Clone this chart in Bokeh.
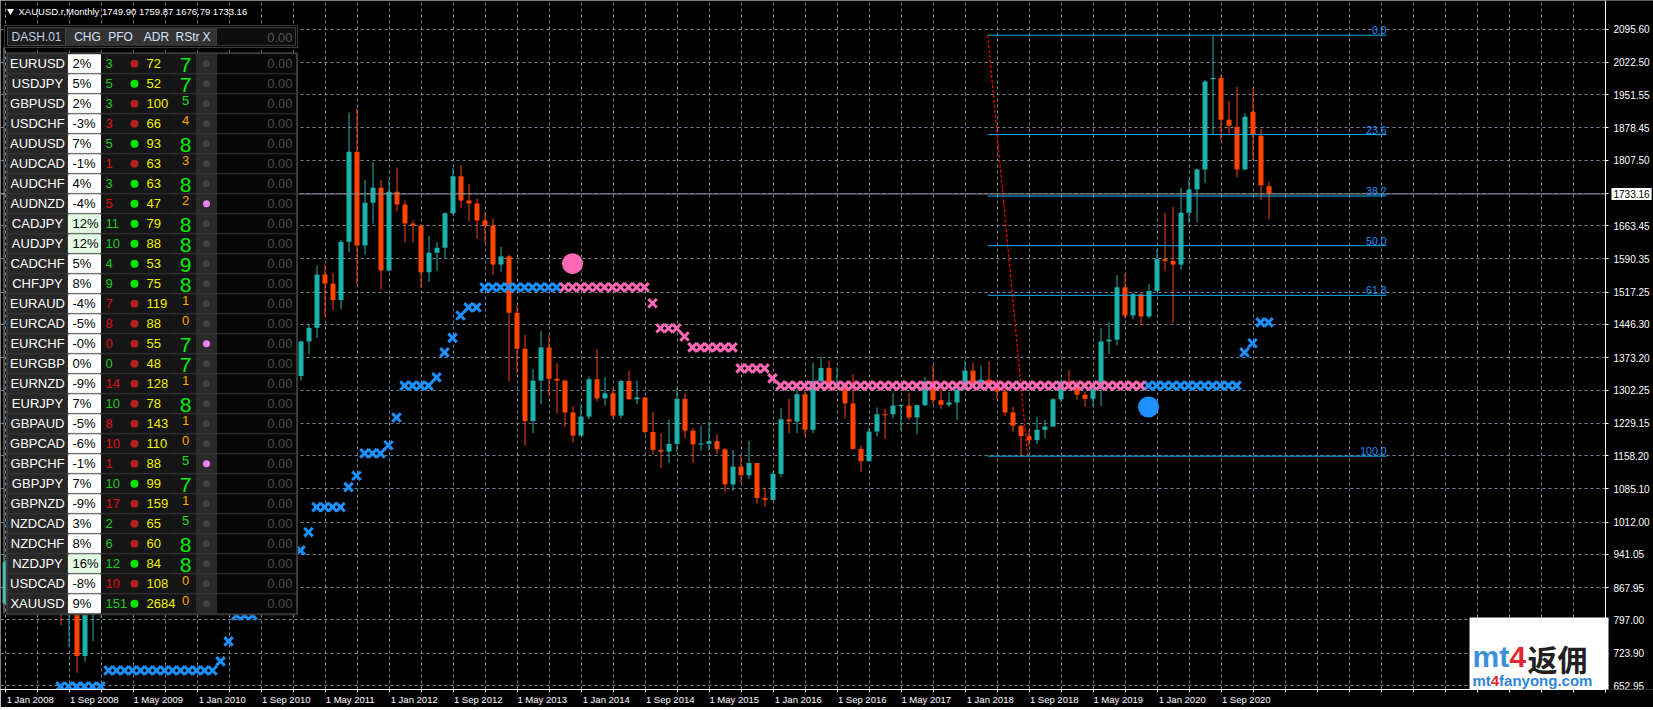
import numpy as np
from bokeh.plotting import figure
from bokeh.models import Range1d, FixedTicker, NumeralTickFormatter, Label
from bokeh.core.properties import value
from bokeh.embed import file_html
from bokeh.resources import INLINE

# ---------------- data ----------------
chart_title = "XAUUSD.r,Monthly"
last_bar_text = "1749.90 1759.87 1676.79 1733.16"
first_year = 2008
month_names = ["Jan", "Feb", "Mar", "Apr", "May", "Jun", "Jul", "Aug", "Sep", "Oct", "Nov", "Dec"]

opens = [834, 924, 972, 917, 864, 886, 926, 914, 834, 880, 718, 815,
         884, 928, 942, 917, 888, 979, 927, 954, 955, 1008, 1040, 1181,
         1097, 1083, 1118, 1113, 1180, 1214, 1244, 1181, 1248, 1307, 1358, 1386,
         1421, 1333, 1409, 1439, 1556, 1536, 1500, 1628, 1826, 1620, 1714, 1747,
         1565, 1738, 1710, 1668, 1664, 1561, 1604, 1615, 1691, 1772, 1719, 1712,
         1675, 1664, 1578, 1596, 1472, 1393, 1234, 1323, 1396, 1327, 1323, 1253,
         1202, 1244, 1326, 1284, 1295, 1246, 1322, 1282, 1286, 1210, 1171, 1167,
         1184, 1283, 1213, 1183, 1184, 1190, 1172, 1095, 1134, 1115, 1142, 1065,
         1061, 1118, 1238, 1233, 1293, 1215, 1322, 1351, 1309, 1316, 1273, 1173,
         1146, 1211, 1249, 1249, 1268, 1268, 1242, 1269, 1321, 1280, 1270, 1275,
         1303, 1345, 1318, 1325, 1315, 1299, 1253, 1224, 1201, 1192, 1215, 1222,
         1282, 1321, 1313, 1292, 1283, 1305, 1409, 1413, 1528, 1466, 1513, 1464,
         1520, 1590, 1586, 1578, 1692, 1743, 1787, 1985, 1988, 1896, 1881, 1787,
         1914, 1861, 1749.90]
highs = [934, 976, 1033, 928, 930, 943, 988, 918, 921, 935, 826, 889,
         932, 1007, 962, 917, 980, 990, 960, 966, 1025, 1070, 1195, 1227,
         1162, 1127, 1134, 1184, 1249, 1265, 1245, 1248, 1308, 1387, 1424, 1432,
         1424, 1411, 1447, 1576, 1577, 1560, 1632, 1912, 1921, 1764, 1803, 1764,
         1764, 1791, 1719, 1676, 1666, 1641, 1627, 1693, 1790, 1796, 1755, 1723,
         1693, 1679, 1617, 1600, 1488, 1424, 1348, 1433, 1424, 1361, 1325, 1267,
         1270, 1332, 1392, 1331, 1306, 1325, 1345, 1323, 1287, 1255, 1207, 1238,
         1307, 1296, 1219, 1224, 1232, 1205, 1175, 1170, 1157, 1191, 1142, 1088,
         1123, 1263, 1283, 1304, 1304, 1362, 1375, 1367, 1352, 1318, 1337, 1180,
         1220, 1264, 1261, 1296, 1270, 1296, 1270, 1331, 1357, 1306, 1299, 1307,
         1366, 1362, 1356, 1365, 1326, 1309, 1266, 1224, 1214, 1243, 1237, 1285,
         1326, 1346, 1324, 1298, 1306, 1439, 1452, 1555, 1557, 1517, 1516, 1535,
         1611, 1692, 1705, 1747, 1765, 1789, 1984, 2082, 1996, 1938, 1969, 1911,
         1966, 1876, 1759.87]
lows = [832, 887, 920, 852, 850, 860, 903, 786, 740, 681, 705, 750,
        801, 890, 865, 866, 880, 913, 905, 930, 950, 1003, 1033, 1075,
        1073, 1045, 1088, 1113, 1156, 1196, 1155, 1177, 1242, 1305, 1331, 1360,
        1308, 1323, 1381, 1417, 1462, 1478, 1480, 1605, 1534, 1600, 1668, 1523,
        1563, 1695, 1627, 1627, 1527, 1540, 1564, 1590, 1686, 1702, 1673, 1635,
        1626, 1555, 1562, 1321, 1339, 1180, 1208, 1271, 1290, 1251, 1221, 1187,
        1202, 1238, 1277, 1268, 1240, 1240, 1281, 1271, 1206, 1161, 1131, 1142,
        1167, 1197, 1142, 1170, 1170, 1162, 1077, 1080, 1098, 1107, 1052, 1046,
        1061, 1111, 1208, 1208, 1200, 1208, 1310, 1302, 1305, 1241, 1171, 1123,
        1146, 1200, 1195, 1241, 1214, 1237, 1205, 1267, 1271, 1261, 1265, 1236,
        1302, 1307, 1303, 1315, 1282, 1245, 1211, 1157, 1180, 1183, 1196, 1221,
        1276, 1303, 1281, 1266, 1266, 1267, 1381, 1400, 1459, 1458, 1445, 1459,
        1517, 1563, 1451, 1567, 1670, 1671, 1757, 1864, 1851, 1865, 1769, 1786,
        1807, 1720, 1676.79]
closes = [924, 972, 917, 864, 886, 926, 914, 834, 880, 718, 815, 884,
          928, 942, 917, 888, 979, 927, 954, 955, 1008, 1040, 1181, 1097,
          1083, 1118, 1113, 1180, 1214, 1244, 1181, 1248, 1307, 1358, 1386, 1421,
          1333, 1409, 1439, 1556, 1536, 1500, 1628, 1826, 1620, 1714, 1747, 1565,
          1738, 1710, 1668, 1664, 1561, 1604, 1615, 1691, 1772, 1719, 1712, 1675,
          1664, 1578, 1596, 1472, 1393, 1234, 1323, 1396, 1327, 1323, 1253, 1202,
          1244, 1326, 1284, 1295, 1246, 1322, 1282, 1286, 1210, 1171, 1167, 1184,
          1283, 1213, 1183, 1184, 1190, 1172, 1095, 1134, 1115, 1142, 1065, 1061,
          1118, 1238, 1233, 1293, 1215, 1322, 1351, 1309, 1316, 1273, 1173, 1146,
          1211, 1249, 1247, 1268, 1269, 1242, 1269, 1321, 1280, 1270, 1275, 1303,
          1345, 1318, 1325, 1316, 1299, 1253, 1224, 1201, 1192, 1215, 1222, 1282,
          1321, 1313, 1292, 1283, 1305, 1409, 1413, 1528, 1466, 1513, 1464, 1520,
          1590, 1586, 1578, 1692, 1743, 1787, 1980, 1988, 1896, 1883, 1787, 1903,
          1863, 1752, 1733.16]
last_price = 1733.16

# trailing-stop indicator (bar index, price)
blue_stop_bars = [7, 8, 9, 10, 11, 12, 13, 14, 15, 16, 17, 18, 19, 20, 21, 22, 23, 24, 25, 26,
                  27, 28, 29, 30, 31, 32, 33, 34, 35, 36, 37, 38, 39, 40, 41, 42, 43, 44,
                  45, 46, 47, 48, 49, 50, 51, 52, 53, 54, 55, 56, 57, 58, 59,
                  60, 61, 62, 63, 64, 65, 66, 67, 68, 69,
                  143, 144, 145, 146, 147, 148, 149, 150, 151, 152, 153, 154, 155, 156, 157, 158]
blue_stop_prices = [651, 651, 651, 651, 651, 651, 686, 686, 686, 686, 686, 686, 686, 686, 686, 686, 686, 686, 686, 686,
                    706, 750, 807, 807, 807, 886, 886, 920, 920, 950, 950, 990, 1045, 1045, 1045, 1045, 1089, 1114,
                    1163, 1163, 1163, 1181, 1242, 1312, 1312, 1312, 1312, 1330, 1385, 1417, 1466, 1484, 1484,
                    1528, 1528, 1528, 1528, 1528, 1528, 1528, 1528, 1528, 1528,
                    1312, 1312, 1312, 1312, 1312, 1312, 1312, 1312, 1312, 1312, 1312, 1312, 1385, 1405, 1451, 1451]
pink_stop_bars = [70, 71, 72, 73, 74, 75, 76, 77, 78, 79, 80, 81, 82, 83, 84, 85,
                  86, 87, 88, 89, 90, 91, 92, 93, 94, 95, 96,
                  97, 98, 99, 100, 101, 102, 103, 104, 105, 106, 107, 108, 109, 110, 111, 112, 113, 114, 115,
                  116, 117, 118, 119, 120, 121, 122, 123, 124, 125, 126, 127, 128, 129, 130, 131, 132, 133,
                  134, 135, 136, 137, 138, 139, 140, 141, 142]
pink_stop_prices = [1528, 1528, 1528, 1528, 1528, 1528, 1528, 1528, 1528, 1528, 1528, 1493, 1438, 1438, 1438, 1420,
                    1396, 1396, 1396, 1396, 1396, 1396, 1350, 1350, 1350, 1350, 1328,
                    1312, 1312, 1312, 1312, 1312, 1312, 1312, 1312, 1312, 1312, 1312, 1312, 1312, 1312, 1312, 1312, 1312, 1312, 1312,
                    1312, 1312, 1312, 1312, 1312, 1312, 1312, 1312, 1312, 1312, 1312, 1312, 1312, 1312, 1312, 1312, 1312, 1312,
                    1312, 1312, 1312, 1312, 1312, 1312, 1312, 1312, 1312]
signal_bars = [71, 143]
signal_prices = [1580, 1265]
signal_colors = ["#FF69B4", "#1E90FF"]

# Fibonacci retracement object
fib_bar_1, fib_price_1 = 122.9, 2082.0
fib_bar_2, fib_price_2 = 127.9, 1157.0
fib_bar_end = 172.75
fib_levels = [0.0, 23.6, 38.2, 50.0, 61.8, 100.0]

price_ticks = [2095.60, 2022.50, 1951.55, 1878.45, 1807.50, 1734.40, 1663.45, 1590.35, 1517.25, 1446.30,
               1373.20, 1302.25, 1229.15, 1158.20, 1085.10, 1012.00, 941.05, 867.95, 797.00, 723.90, 652.95]

# dashboard
dash_header = ["CHG", "PFO", "ADR", "RStr", "X"]
dash_symbols = ["EURUSD", "USDJPY", "GBPUSD", "USDCHF", "AUDUSD", "AUDCAD", "AUDCHF", "AUDNZD", "CADJPY",
                "AUDJPY", "CADCHF", "CHFJPY", "EURAUD", "EURCAD", "EURCHF", "EURGBP", "EURNZD", "EURJPY",
                "GBPAUD", "GBPCAD", "GBPCHF", "GBPJPY", "GBPNZD", "NZDCAD", "NZDCHF", "NZDJPY", "USDCAD", "XAUUSD"]
dash_chg = ["2%", "5%", "2%", "-3%", "7%", "-1%", "4%", "-4%", "12%", "12%", "5%", "8%", "-4%", "-5%",
            "-0%", "0%", "-9%", "7%", "-5%", "-6%", "-1%", "7%", "-9%", "3%", "8%", "16%", "-8%", "9%"]
dash_pfo = [3, 5, 3, 3, 5, 1, 3, 5, 11, 10, 4, 9, 7, 8, 0, 0, 14, 10, 8, 10, 1, 10, 17, 2, 6, 12, 10, 151]
dash_pfo_up = [0, 1, 0, 0, 1, 0, 1, 1, 1, 1, 1, 1, 0, 0, 0, 0, 0, 0, 0, 0, 0, 1, 0, 0, 0, 1, 0, 1]
dash_adr = [72, 52, 100, 66, 93, 63, 63, 47, 79, 88, 53, 75, 119, 88, 55, 48, 128, 78, 143, 110, 88, 99,
            159, 65, 60, 84, 108, 2684]
dash_rstr = [7, 7, 5, 4, 8, 3, 8, 2, 8, 8, 9, 8, 1, 0, 7, 7, 1, 8, 1, 0, 5, 7, 1, 5, 8, 8, 0, 0]
dash_flag = [0, 0, 0, 0, 0, 0, 0, 1, 0, 0, 0, 0, 0, 0, 1, 0, 0, 0, 0, 0, 1, 0, 0, 0, 0, 0, 0, 0]
dash_value = "0.00"

# ---------------- layout helpers (reference pixel -> data) ----------------
PX_BAR = 8.0
PX_UNIT = 0.4551
W, H, AXIS_X, FRAME_H = 1653, 707, 1605, 689


def X(px):
    return (px - 4.0) / PX_BAR


def Y(py):
    return 2095.6 - (py - 28.5) / PX_UNIT


FONT = value("Liberation Sans")
AXFONT = "Liberation Sans"

p = figure(width=W, height=H,
           x_range=Range1d(X(0), X(W)), y_range=Range1d(Y(FRAME_H), Y(0)),
           y_axis_location="right", output_backend="svg", toolbar_location=None,
           background_fill_color="black", border_fill_color="black",
           min_border_left=0, min_border_top=0, min_border_right=0, min_border_bottom=H - FRAME_H,
           outline_line_color=None)

# ---- axes ----
n = len(opens)
half = 0.0625  # half-pixel shift for crisp 1px lines
minor_x = [k + half for k in range(0, 201, 4)]
label_x = []
overrides = {}
for k in range(0, n, 8):
    t = k + 3.15 + half
    label_x.append(t)
    overrides[t] = "1 %s %d" % (month_names[k % 12], first_year + k // 12)
p.xaxis.ticker = FixedTicker(ticks=label_x, minor_ticks=minor_x)
p.xaxis.major_label_overrides = overrides
p.xaxis.bounds = (X(0), X(AXIS_X))
p.xgrid.ticker = FixedTicker(ticks=minor_x)
p.yaxis.ticker = FixedTicker(ticks=price_ticks)
p.yaxis.formatter = NumeralTickFormatter(format="0.00")
p.yaxis.major_label_overrides = {1734.40: "%.2f" % last_price}
p.yaxis.fixed_location = X(AXIS_X)
for ax in (p.xaxis[0], p.yaxis[0]):
    ax.axis_line_color = "white"
    ax.major_tick_line_color = "white"
    ax.minor_tick_line_color = None
    ax.major_tick_in = 0
    ax.major_tick_out = 3
    ax.major_label_text_color = "white"
    ax.major_label_text_font = AXFONT
    ax.major_label_text_font_size = "10px"
p.xaxis.major_tick_line_color = None
p.xaxis.minor_tick_line_color = "white"
p.xaxis.minor_tick_in = 0
p.xaxis.minor_tick_out = 3
p.xaxis.major_label_standoff = 1
p.xaxis.major_label_text_font_size = "9.5px"
p.yaxis.major_label_standoff = 5

p.grid.grid_line_color = "#778899"
p.grid.grid_line_dash = "3 3"
p.grid.grid_line_width = 1

# price-scale strip (hides grid right of the axis)
p.quad(left=[X(AXIS_X + 0.5)], right=[X(W)], bottom=[Y(FRAME_H)], top=[Y(0)], fill_color="black", line_color=None)

# ---- candles ----
bars = np.arange(n) + half
o = np.array(opens, float)
c = np.array(closes, float)
hi = np.array(highs, float)
lo = np.array(lows, float)
col = np.where(c >= o, "#20B2AA", "#FF4500")
top = np.maximum(o, c)
bot = np.minimum(o, c)
mid = (top + bot) / 2
thin = (top - bot) < 2.4
top = np.where(thin, mid + 1.2, top)
bot = np.where(thin, mid - 1.2, bot)
p.segment(x0=bars, y0=hi, x1=bars, y1=lo, line_color=list(col), line_width=1)
p.vbar(x=bars, width=5 / PX_BAR, top=top, bottom=bot, fill_color=list(col), line_color=None)

# current price line
p.segment(x0=[X(0)], y0=[last_price], x1=[X(AXIS_X)], y1=[last_price], line_color="#8a939c", line_width=1)

# ---- Fibonacci ----
p.line([fib_bar_1, fib_bar_2], [fib_price_1, fib_price_2], line_color="#ff0000", line_dash="3 2", line_width=1.2)
fib_prices = [fib_price_1 - lv / 100.0 * (fib_price_1 - fib_price_2) for lv in fib_levels]
p.segment(x0=[fib_bar_1] * len(fib_levels), y0=fib_prices, x1=[fib_bar_end] * len(fib_levels), y1=fib_prices,
          line_color="#00AEEF", line_width=1)
p.text(x=[fib_bar_end] * len(fib_levels), y=fib_prices, text=["%.1f" % lv for lv in fib_levels],
       text_color="#1E90FF", text_font=FONT, text_font_size="10.5px", text_align="right",
       text_baseline="bottom", y_offset=-1)

# ---- indicator markers ----
p.scatter(x=blue_stop_bars, y=blue_stop_prices, marker="x", size=12, line_width=3, line_color="#1E90FF")
p.scatter(x=pink_stop_bars, y=pink_stop_prices, marker="x", size=12, line_width=3, line_color="#FF69B4")
p.scatter(x=signal_bars, y=signal_prices, marker="circle", size=21, fill_color=signal_colors, line_color=None)

# current price label on the axis
p.add_layout(Label(x=X(AXIS_X), y=last_price, text="%.2f" % last_price, x_offset=6,
                   text_baseline="middle", text_align="left", text_color="black",
                   text_font=AXFONT, text_font_size="10px",
                   background_fill_color="white", padding=2))

# ---- watermark ----
p.quad(left=[X(1469)], right=[X(1608)], top=[Y(617)], bottom=[Y(692)], fill_color="white", line_color=None)
p.text(x=[X(1472)], y=[Y(656)], text=["mt"], text_color="#3b8fd9", text_font=FONT, text_font_size="30px",
       text_font_style="bold", text_baseline="alphabetic")
p.text(x=[X(1509)], y=[Y(656)], text=["4"], text_color="#e5262b", text_font=FONT, text_font_size="30px",
       text_font_style="bold", text_baseline="alphabetic")
p.text(x=[X(1527)], y=[Y(657)], text=["返佣"], text_color="#231f20", text_font=value("Noto Sans CJK SC"),
       text_font_size="30px", text_font_style="bold", text_baseline="alphabetic")
p.text(x=[X(1472)], y=[Y(680)], text=["mt"], text_color="#2f86d6", text_font=FONT, text_font_size="15px",
       text_font_style="bold", text_baseline="alphabetic")
p.text(x=[X(1490.3)], y=[Y(680)], text=["4"], text_color="#e5262b", text_font=FONT, text_font_size="15px",
       text_font_style="bold", text_baseline="alphabetic")
p.text(x=[X(1498.6)], y=[Y(680)], text=["fanyong.com"], text_color="#2f86d6", text_font=FONT,
       text_font_size="15px", text_font_style="bold", text_baseline="alphabetic")

# ---------------- dashboard ----------------
rx, ry, rw, rh, rf, rl = [], [], [], [], [], []


def cell(l, r, t, b, fill, line=None):
    rx.append(X((l + r) / 2.0))
    ry.append(Y((t + b) / 2.0))
    rw.append(r - l)
    rh.append(b - t)
    rf.append(fill)
    rl.append(line if line else fill)


# header row
cell(4, 297, 25, 47, "#000000", "#3c3c3c")
cell(7, 65, 27, 45, "#1c1c1c", "#4a4a4a")
cell(66, 215, 27, 45, "#343434", "#343434")
cell(216, 295, 27, 45, "#0e0e0e", "#3c3c3c")

nrows = len(dash_symbols)
row0 = 53.3
rowh = 20.0
cell(6, 297, row0 - 1, row0 + rowh * nrows + 1, "#3a3a3a")
for i in range(nrows):
    t = row0 + rowh * i + 1
    b = t + 18
    chg_num = float(dash_chg[i].replace("%", ""))
    cell(8, 66, t, b, "#272727")
    cell(68, 100, t, b, "#e3fbe3" if chg_num >= 10 else "#ffffff")
    cell(101, 143, t, b, "#151515")
    cell(144, 174, t, b, "#151515")
    cell(175, 195, t, b, "#151515")
    cell(196, 216, t, b, "#2a2a2a")
    cell(217, 295, t, b, "#060606")

p.rect(x=rx, y=ry, width=rw, height=rh, width_units="screen", height_units="screen",
       fill_color=rf, line_color=rl, line_width=1)
# light ruler line on the dashboard's left side
p.segment(x0=[X(3.5)], y0=[Y(47)], x1=[X(3.5)], y1=[Y(613)], line_color="#a8a8a8", line_width=1)

# header texts
p.text(x=[X(36)], y=[Y(36.5)], text=["DASH.01"], text_color="#c3cfe8", text_font=FONT,
       text_font_size="12px", text_align="center", text_baseline="middle")
p.text(x=[X(87), X(120), X(156), X(187), X(206)], y=[Y(36.5)] * 5, text=dash_header,
       text_color="#d6e2ff", text_font=FONT, text_font_size="12px", text_align="center",
       text_baseline="middle")
p.text(x=[X(292)], y=[Y(36.5)], text=[dash_value], text_color="#555555", text_font=FONT,
       text_font_size="13px", text_align="right", text_baseline="middle")

cy = [Y(row0 + rowh * i + 10) for i in range(nrows)]
p.text(x=[X(37)] * nrows, y=cy, text=dash_symbols, text_color="white", text_font=FONT,
       text_font_size="13px", text_align="center", text_baseline="middle")
p.text(x=[X(72)] * nrows, y=cy, text=dash_chg, text_color="black", text_font=FONT,
       text_font_size="13px", text_align="left", text_baseline="middle")
pfo_col = ["#e01010" if s.startswith("-") else "#1ec81e" for s in dash_chg]
p.text(x=[X(105)] * nrows, y=cy, text=[str(v) for v in dash_pfo], text_color=pfo_col, text_font=FONT,
       text_font_size="13px", text_align="left", text_baseline="middle")
p.scatter(x=[X(134)] * nrows, y=cy, marker="circle", size=8,
          fill_color=["#00e600" if u else "#b22222" for u in dash_pfo_up], line_color=None)
p.text(x=[X(146)] * nrows, y=cy, text=[str(v) for v in dash_adr], text_color="#f2f200", text_font=FONT,
       text_font_size="13px", text_align="left", text_baseline="middle")
big_i = [i for i in range(nrows) if dash_rstr[i] >= 7]
small_i = [i for i in range(nrows) if dash_rstr[i] < 7]
p.text(x=[X(185)] * len(big_i), y=[cy[i] for i in big_i], text=[str(dash_rstr[i]) for i in big_i],
       text_color="#00f000", text_font=FONT, text_font_size="21px", text_align="center",
       text_baseline="middle", y_offset=1)
p.text(x=[X(185)] * len(small_i), y=[cy[i] for i in small_i], text=[str(dash_rstr[i]) for i in small_i],
       text_color=["#22dd22" if dash_rstr[i] >= 5 else "#ffa500" for i in small_i], text_font=FONT,
       text_font_size="13px", text_align="center", text_baseline="middle", y_offset=-3)
p.scatter(x=[X(206)] * nrows, y=cy, marker="circle", size=7,
          fill_color=["#ee82ee" if f else "#424242" for f in dash_flag], line_color=None)
p.text(x=[X(292)] * nrows, y=cy, text=[dash_value] * nrows, text_color="#4d4d4d", text_font=FONT,
       text_font_size="13px", text_align="right", text_baseline="middle")

# chart title
p.scatter(x=[X(10)], y=[Y(10.5)], marker="inverted_triangle", size=7, fill_color="white", line_color=None)
p.text(x=[X(18)], y=[Y(11)], text=[chart_title + "  " + last_bar_text], text_color="white", text_font=FONT,
       text_font_size="9.5px", text_align="left", text_baseline="middle")

open("out.html", "w").write(file_html(p, INLINE))
